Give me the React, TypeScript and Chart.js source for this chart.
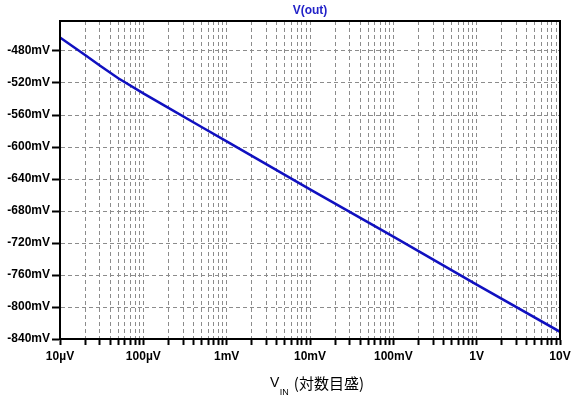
import React, { useEffect, useRef } from "react";
import { Chart, registerables } from "chart.js";

Chart.register(...registerables);

// ---- data ----
const vin: number[] = [1e-5, 2e-5, 3e-5, 5e-5, 1e-4, 2e-4, 5e-4, 1e-3, 1e-2, 1e-1, 1, 10];
const voutMv: number[] = [-463, -485, -498, -514, -533, -551, -575, -593, -653, -712, -772, -831];

const decadeValues: number[] = [1e-5, 1e-4, 1e-3, 1e-2, 1e-1, 1, 10];
const decadeLabels: string[] = ["10µV", "100µV", "1mV", "10mV", "100mV", "1V", "10V"];
const minorMultipliers: number[] = [1, 2, 3, 4, 5, 6, 7, 8, 9];

const yMin = -840;
const yMax = -442.5;
const yStep = 40;

const TITLE = "V(out)";
const XTITLE_MAIN = "V";
const XTITLE_SUB = "IN";
const XTITLE_REST = "(対数目盛)";

const xTickValues: number[] = [];
for (let i = 0; i < decadeValues.length - 1; i++) {
  for (const m of minorMultipliers) xTickValues.push(+(decadeValues[i] * m).toPrecision(6));
}
xTickValues.push(decadeValues[decadeValues.length - 1]);

const decorPlugin = {
  id: "decor",
  afterDraw(chart: any) {
    const { ctx, chartArea: a } = chart;
    ctx.save();
    ctx.strokeStyle = "#000";
    ctx.lineWidth = 2;
    ctx.setLineDash([]);
    ctx.strokeRect(a.left, a.top, a.right - a.left, a.bottom - a.top);

    ctx.fillStyle = "#2222c8";
    ctx.font = 'bold 12px "Liberation Sans", Arial, sans-serif';
    ctx.textAlign = "center";
    ctx.textBaseline = "middle";
    ctx.fillText(TITLE, (a.left + a.right) / 2, 11);

    ctx.fillStyle = "#000";
    ctx.textAlign = "left";
    ctx.textBaseline = "alphabetic";
    const cx = (a.left + a.right) / 2 + 10;
    let x = cx - 50;
    ctx.font = '14px "Liberation Sans", Arial, sans-serif';
    ctx.fillText(XTITLE_MAIN, x, 387);
    x += ctx.measureText(XTITLE_MAIN).width + 0.5;
    ctx.font = '9px "Liberation Sans", Arial, sans-serif';
    ctx.fillText(XTITLE_SUB, x, 395);
    x += ctx.measureText(XTITLE_SUB).width + 5;
    ctx.font = '15px "Noto Sans CJK JP", sans-serif';
    ctx.fillText(XTITLE_REST, x, 389);
    ctx.restore();
  },
};

export default function App() {
  const ref = useRef<HTMLCanvasElement | null>(null);
  useEffect(() => {
    if (!ref.current) return;
    const tickFont = { family: '"Liberation Sans", Arial, sans-serif', size: 12, weight: "bold" as const };
    const chart = new Chart(ref.current, {
      type: "line",
      data: {
        datasets: [
          {
            data: vin.map((v, i) => ({ x: v, y: voutMv[i] })),
            borderColor: "#1010c0",
            borderWidth: 2.5,
            pointRadius: 0,
            tension: 0,
            fill: false,
          },
        ],
      },
      options: {
        responsive: false,
        animation: false,
        devicePixelRatio: 1,
        layout: { padding: { left: 0, right: 18, top: 21, bottom: 0 } },
        plugins: { legend: { display: false }, title: { display: false }, tooltip: { enabled: false } },
        scales: {
          x: {
            type: "logarithmic",
            min: decadeValues[0],
            max: decadeValues[decadeValues.length - 1],
            afterBuildTicks: (scale: any) => {
              scale.ticks = xTickValues.map((v) => ({ value: v }));
            },
            afterFit: (scale: any) => {
              scale.height = 60;
            },
            ticks: {
              autoSkip: false,
              maxRotation: 0,
              minRotation: 0,
              padding: 4,
              color: "#000",
              font: tickFont,
              callback: (value: any) => {
                const v = Number(value);
                const idx = decadeValues.findIndex((d) => Math.abs(d - v) / d < 1e-6);
                return idx >= 0 ? decadeLabels[idx] : "";
              },
            },
            grid: {
              color: "#8c8c8c",
              lineWidth: 1,
              drawTicks: true,
              tickLength: 6,
              tickWidth: 2,
              tickColor: "#000",
            },
            border: { display: true, color: "#000", width: 2, dash: [4, 3] },
          },
          y: {
            type: "linear",
            min: yMin,
            max: yMax,
            afterFit: (scale: any) => {
              scale.width = 60;
            },
            ticks: {
              stepSize: yStep,
              includeBounds: false,
              padding: 2,
              color: "#000",
              font: tickFont,
              callback: (value: any) => `${value}mV`,
            },
            grid: {
              color: "#8c8c8c",
              lineWidth: 1,
              drawTicks: true,
              tickLength: 8,
              tickWidth: 2,
              tickColor: "#000",
            },
            border: { display: true, color: "#000", width: 2, dash: [4, 3] },
          },
        },
      },
      plugins: [decorPlugin],
    });
    return () => chart.destroy();
  }, []);
  return (
    <div style={{ position: "fixed", left: 0, top: 0, width: 578, height: 399, background: "#fff" }}>
      <canvas ref={ref} width={578} height={399} style={{ display: "block" }} />
    </div>
  );
}
